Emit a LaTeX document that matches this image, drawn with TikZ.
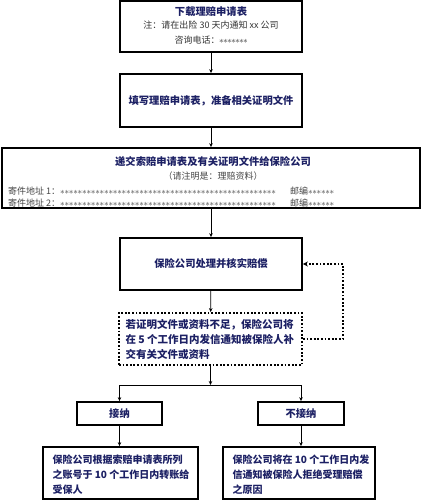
\documentclass[tikz,border=0pt]{standalone}
\usepackage{fontspec}
\setmainfont{Noto Sans CJK SC}
\usetikzlibrary{arrows.meta}
\definecolor{navy}{RGB}{28,32,100}
\definecolor{txtgray}{RGB}{70,70,70}
\newcommand{\starrow}[2]{\makebox[#1]{\xleaders\hbox to #2{\hss$\ast$\hss}\hfill}}
\begin{document}
\begin{tikzpicture}[x=1pt,y=-1pt,
  box/.style={draw=black,line width=1.8pt,inner sep=0pt},
  dotbox/.style={draw=black,line width=1.8pt,dash pattern=on 1.8pt off 1.8pt,inner sep=0pt},
  conn/.style={draw=black,line width=0.8pt,-{Stealth[length=4pt,width=3.5pt]}},
  plain/.style={draw=black,line width=0.8pt},
  fbconn/.style={draw=black,line width=1.8pt,dash pattern=on 1.8pt off 1.8pt,-{Stealth[length=5pt,width=5pt]}},
  ttl/.style={font=\bfseries\fontsize{10.3}{12}\selectfont,text=navy},
  note/.style={font=\fontsize{9}{11}\selectfont,text=txtgray,inner sep=0pt},
  body/.style={font=\bfseries\fontsize{10.5}{15}\selectfont,text=navy,align=left,anchor=west},
  body2/.style={body,font=\bfseries\fontsize{10}{15}\selectfont}
]
\useasboundingbox (0,0) rectangle (422,500);
\fill[white] (0,0) rectangle (422,500);

% boxes
\node[box,minimum width=182pt,minimum height=51pt] (b1) at (211,26.5) {};
\node[ttl] (t1) at (211,12) {下载理赔申请表};
\node[note,text=black!80] (t1a) at (211,25.5) {注：请在出险 30 天内通知 xx 公司};
\node[note,text=black!80] (t1b) at (211,40) {咨询电话：\starrow{28pt}{4pt}};

\node[box,minimum width=182pt,minimum height=53pt] (b2) at (211,100.5) {};
\node[ttl] (t2) at (211,100.5) {填写理赔申请表，准备相关证明文件};

\node[box,minimum width=418pt,minimum height=60pt] (b3) at (211,178) {};
\node[ttl] (t3) at (213,162) {递交索赔申请表及有关证明文件给保险公司};
\node[note] (t3a) at (213,176) {（请注明是：理赔资料）};
\node[note,anchor=west] (t3b) at (8,191) {寄件地址 1：{\color{black!75}\starrow{216pt}{4.4pt}}};
\node[note,anchor=west] (t3c) at (8,203.5) {寄件地址 2：{\color{black!75}\starrow{216pt}{4.4pt}}};
\node[note,anchor=west] (t3d) at (290,191) {邮编{\color{black!75}\starrow{26pt}{4.3pt}}};
\node[note,anchor=west] (t3e) at (290,203.5) {邮编{\color{black!75}\starrow{26pt}{4.3pt}}};

\node[box,minimum width=182pt,minimum height=52pt] (b4) at (211,264) {};
\node[ttl] (t4) at (211,264) {保险公司处理并核实赔偿};

\node[dotbox,minimum width=183pt,minimum height=52pt] (b5) at (210.5,339) {};
\node[body] (t5) at (122,339.5) {若证明文件或资料不足，保险公司将\\在 5 个工作日内发信通知被保险人补\\交有关文件或资料};

\node[box,minimum width=85pt,minimum height=23pt] (b6) at (119.5,413.5) {};
\node[ttl] (t6) at (119.5,413.5) {接纳};
\node[box,minimum width=86pt,minimum height=23pt] (b7) at (301,413.5) {};
\node[ttl] (t7) at (301,413.5) {不接纳};

\node[box,minimum width=155pt,minimum height=52pt] (b8) at (120.5,473) {};
\node[body2] (t8) at (49,474.5) {保险公司根据索赔申请表所列\\之账号于 10 个工作日内转账给\\受保人};
\node[box,minimum width=152pt,minimum height=52pt] (b9) at (299,473) {};
\node[body2] (t9) at (229,474.5) {保险公司将在 10 个工作日内发\\信通知被保险人拒绝受理赔偿\\之原因};

% connectors
\coordinate (jn) at (210.5,385);
\coordinate (fb) at (343,300);
\draw[conn] (b1) -- (b2);
\draw[conn] (b2) -- (b3);
\draw[conn] (b3) -- (b4);
\draw[conn] (b4) -- (b5);
\draw[conn] (b5) -- (jn);
\draw[plain] (jn -| b6) -- (jn -| b7);
\draw[conn] (jn -| b6) -- (b6);
\draw[conn] (jn -| b7) -- (b7);
\draw[conn] (b6) -- (b8.north -| b6);
\draw[conn] (b7) -- (b9.north -| b7);
\draw[fbconn] (b5.east) -- (b5.east -| fb) -- (fb |- b4.east) -- (b4.east);
\end{tikzpicture}
\end{document}
